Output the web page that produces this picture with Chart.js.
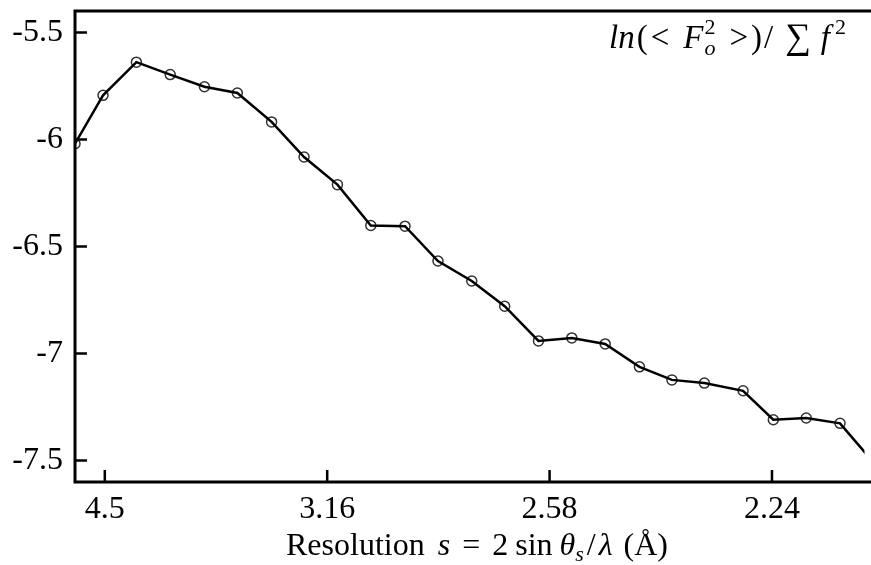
<!DOCTYPE html>
<html>
<head>
<meta charset="utf-8">
<script src="https://cdn.jsdelivr.net/npm/chart.js@4"></script>
<style>
  html, body { margin: 0; padding: 0; background: #fff; }
</style>
</head>
<body>
<canvas id="wilson" width="871" height="565"></canvas>
<script>
// s^2 = (2 sin(theta)/lambda)^2 for each resolution shell
const s2Values = [0.0433, 0.0496, 0.0571, 0.0647, 0.0724, 0.0798, 0.0875, 0.0948, 0.1023, 0.1098,
    0.1175, 0.1249, 0.1325, 0.1399, 0.1475, 0.1550, 0.1625, 0.1702, 0.1775, 0.1848,
    0.1935, 0.2003, 0.2077, 0.2153, 0.2228];
const lnValues = [-6.020, -5.794, -5.639, -5.697, -5.754, -5.783, -5.918, -6.082, -6.211, -6.402,
    -6.405, -6.568, -6.661, -6.779, -6.941, -6.927, -6.955, -7.062, -7.123, -7.138,
    -7.174, -7.309, -7.301, -7.326, -7.508];
const xTickValues = [0.05, 0.10, 0.15, 0.20];
const xTickLabels = ['4.5', '3.16', '2.58', '2.24'];
const yTickValues = [-7.5, -7, -6.5, -6, -5.5];

const SERIF = '"Liberation Serif", "DejaVu Serif", serif';
const points = s2Values.map((x, i) => ({ x: x, y: lnValues[i] }));

// frame on three sides plus inward tick marks
const framePlugin = {
    id: 'frame',
    afterDatasetsDraw(chart) {
        const ctx = chart.ctx;
        const a = chart.chartArea;
        const xs = chart.scales.x, ys = chart.scales.y;
        ctx.save();
        ctx.strokeStyle = '#000';
        ctx.lineWidth = 2.5;
        ctx.beginPath();
        xTickValues.forEach(v => {
            const px = xs.getPixelForValue(v);
            ctx.moveTo(px, a.bottom);
            ctx.lineTo(px, a.bottom - 12);
        });
        yTickValues.forEach(v => {
            const py = ys.getPixelForValue(v);
            ctx.moveTo(a.left, py);
            ctx.lineTo(a.left + 12, py);
        });
        ctx.stroke();
        ctx.lineWidth = 3;
        ctx.beginPath();
        ctx.moveTo(chart.width, a.top);
        ctx.lineTo(a.left, a.top);
        ctx.lineTo(a.left, a.bottom);
        ctx.lineTo(chart.width, a.bottom);
        ctx.stroke();
        ctx.restore();
    }
};

// draws a run of text pieces with mixed fonts, left to right
function drawRun(ctx, pieces, x, y, align) {
    let total = 0;
    pieces.forEach(p => {
        ctx.font = p.f;
        p.w = ctx.measureText(p.t).width;
        if (!p.stack) total += p.w + (p.gap || 0);
    });
    let cx = x;
    if (align === 'center') cx = x - total / 2;
    if (align === 'right') cx = x - total;
    pieces.forEach(p => {
        ctx.font = p.f;
        ctx.fillText(p.t, cx, y + (p.dy || 0));
        if (!p.stack) cx += p.w + (p.gap || 0);
    });
}

const textPlugin = {
    id: 'mathText',
    afterDraw(chart) {
        const ctx = chart.ctx;
        ctx.save();
        ctx.fillStyle = '#000';
        ctx.textBaseline = 'alphabetic';
        const R = '32px ' + SERIF, I = 'italic 32px ' + SERIF, Is = 'italic 22px ' + SERIF;
        drawRun(ctx, [
            { t: 'Resolution', f: R, gap: 13 },
            { t: 's', f: I, gap: 12 },
            { t: '=', f: R, gap: 12 },
            { t: '2', f: R, gap: 7 },
            { t: 'sin', f: R, gap: 7 },
            { t: 'θ', f: I },
            { t: 's', f: Is, dy: 6, gap: 3 },
            { t: '/', f: R, gap: 3 },
            { t: 'λ', f: I, gap: 11 },
            { t: '(Å)', f: R }
        ], 477, 555, 'center');

        const r = '33px ' + SERIF, it = 'italic 33px ' + SERIF, sm = '22px ' + SERIF, smi = 'italic 22px ' + SERIF;
        drawRun(ctx, [
            { t: 'ln', f: it, gap: 2 },
            { t: '(', f: r, gap: 3 },
            { t: '<', f: r, gap: 14 },
            { t: 'F', f: it, gap: 1 },
            { t: '2', f: sm, dy: -14, stack: true },
            { t: 'o', f: smi, dy: 7, gap: 14 },
            { t: '>', f: r, gap: 3 },
            { t: ')', f: r, gap: 2 },
            { t: '/', f: r, gap: 12 },
            { t: '∑', f: '36px ' + SERIF, gap: 10 },
            { t: 'f', f: it, gap: 5 },
            { t: '2', f: sm, dy: -14 }
        ], 846, 48, 'right');
        ctx.restore();
    }
};

new Chart(document.getElementById('wilson'), {
    type: 'line',
    data: {
        datasets: [
            {
                data: points,
                showLine: false,
                pointRadius: 5,
                pointBorderWidth: 1.5,
                pointBorderColor: '#333',
                pointBackgroundColor: 'rgba(0,0,0,0)',
                order: 2
            },
            {
                data: points,
                borderColor: '#000',
                borderWidth: 2.5,
                pointRadius: 0,
                tension: 0,
                order: 1
            }
        ]
    },
    options: {
        responsive: false,
        animation: false,
        devicePixelRatio: 1,
        layout: { padding: { top: 11, right: 0, bottom: 0, left: 0 } },
        plugins: {
            legend: { display: false },
            tooltip: { enabled: false }
        },
        scales: {
            x: {
                type: 'linear',
                min: 0.0433,
                max: 0.2208,
                grid: { display: false },
                border: { display: false },
                afterBuildTicks: (s) => { s.ticks = xTickValues.map(v => ({ value: v })); },
                afterFit: (s) => { s.height = 83; s.paddingLeft = 0; s.paddingRight = 0; },
                ticks: {
                    autoSkip: false,
                    maxRotation: 0,
                    padding: 0,
                    color: '#000',
                    font: { family: SERIF, size: 32 },
                    callback: (v) => xTickLabels[xTickValues.indexOf(v)]
                }
            },
            y: {
                min: -7.6,
                max: -5.4,
                grid: { display: false },
                border: { display: false },
                afterBuildTicks: (s) => { s.ticks = yTickValues.map(v => ({ value: v })); },
                afterFit: (s) => { s.width = 75; s.paddingTop = 0; s.paddingBottom = 0; },
                ticks: {
                    padding: 4,
                    color: '#000',
                    font: { family: SERIF, size: 32 },
                    callback: (v) => String(v)
                }
            }
        }
    },
    plugins: [framePlugin, textPlugin]
});
</script>
</body>
</html>
